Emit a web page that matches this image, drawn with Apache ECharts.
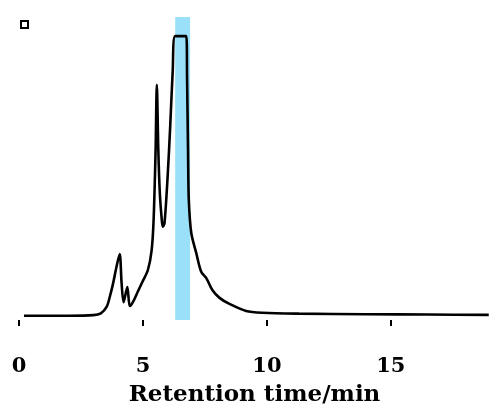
<!DOCTYPE html>
<html>
<head>
<meta charset="utf-8">
<script src="https://cdn.jsdelivr.net/npm/echarts@6/dist/echarts.min.js"></script>
<style>
  html, body { margin: 0; padding: 0; background: #fff; }
  #chart { width: 490px; height: 409px; }
</style>
</head>
<body>
<div id="chart"></div>
<script>
// retention time (min) and detector signal
var times  = [0.2, 1.0, 2.0, 3.0, 3.3, 3.54, 3.66, 3.78, 3.94, 4.06, 4.14, 4.22, 4.37, 4.47, 4.6, 4.8, 4.99, 5.2, 5.35, 5.43, 5.51, 5.56, 5.62, 5.68, 5.75, 5.8, 5.87, 6.0, 6.1, 6.2, 6.3, 6.75, 6.78, 6.82, 6.85, 6.95, 7.15, 7.35, 7.55, 7.8, 8.09, 8.49, 9.16, 9.81, 11.3, 14.0, 16.5, 18.95];
var signal = [1.4, 1.4, 1.4, 1.6, 2.2, 4.4, 7.6, 11.5, 17.8, 21.8, 12.0, 5.9, 10.9, 4.6, 6.0, 9.5, 12.8, 16.5, 23.0, 33.0, 56.0, 77.6, 56.0, 42.0, 34.0, 30.8, 32.0, 48.0, 64.0, 82.0, 93.7, 93.7, 80.0, 55.0, 39.6, 28.7, 22.1, 15.9, 13.9, 9.9, 7.3, 5.3, 3.0, 2.4, 2.1, 1.9, 1.8, 1.7];
// highlighted collection window
var bandStart = 6.3, bandEnd = 6.9;
var xTicks = [0, 5, 10, 15];

var points = times.map(function (t, i) { return [t, signal[i]]; });

var chart = echarts.init(document.getElementById('chart'), null, { renderer: 'canvas' });

var serif = 'DejaVu Serif';

var option = {
  animation: false,
  legend: {
    left: 15,
    top: 15,
    itemWidth: 7,
    itemHeight: 7,
    padding: 5,
    formatter: function () { return ''; },
    data: [{
      name: 'signal',
      icon: 'rect',
      itemStyle: { color: '#fff', borderColor: '#000', borderWidth: 2 }
    }]
  },
  grid: {
    left: 19,
    right: 0,
    top: 17,
    bottom: 89,
    outerBoundsMode: 'none'
  },
  xAxis: {
    type: 'value',
    min: 0,
    max: 19,
    interval: 5,
    name: 'Retention time/min',
    nameLocation: 'middle',
    nameGap: 64,
    nameTextStyle: {
      fontFamily: serif,
      fontWeight: 'bold',
      fontSize: 23,
      color: '#000'
    },
    axisLine: { show: false },
    axisTick: {
      show: true,
      length: 6,
      customValues: xTicks,
      lineStyle: { color: '#000', width: 2 }
    },
    axisLabel: {
      customValues: xTicks,
      margin: 36,
      fontFamily: serif,
      fontWeight: 'bold',
      fontSize: 21,
      color: '#000'
    },
    splitLine: { show: false }
  },
  yAxis: {
    type: 'value',
    min: 0,
    max: 100,
    show: false
  },
  series: [{
    name: 'signal',
    type: 'line',
    data: points,
    symbol: 'none',
    smooth: 0.3,
    z: 2,
    lineStyle: { color: '#000', width: 2.6 },
    itemStyle: { color: '#000' }
  }, {
    name: 'band',
    type: 'line',
    data: [],
    z: 5,
    markArea: {
      silent: true,
      itemStyle: { color: 'rgba(0,178,238,0.4)' },
      data: [[{ xAxis: bandStart }, { xAxis: bandEnd }]]
    }
  }]
};

chart.setOption(option);
</script>
</body>
</html>
